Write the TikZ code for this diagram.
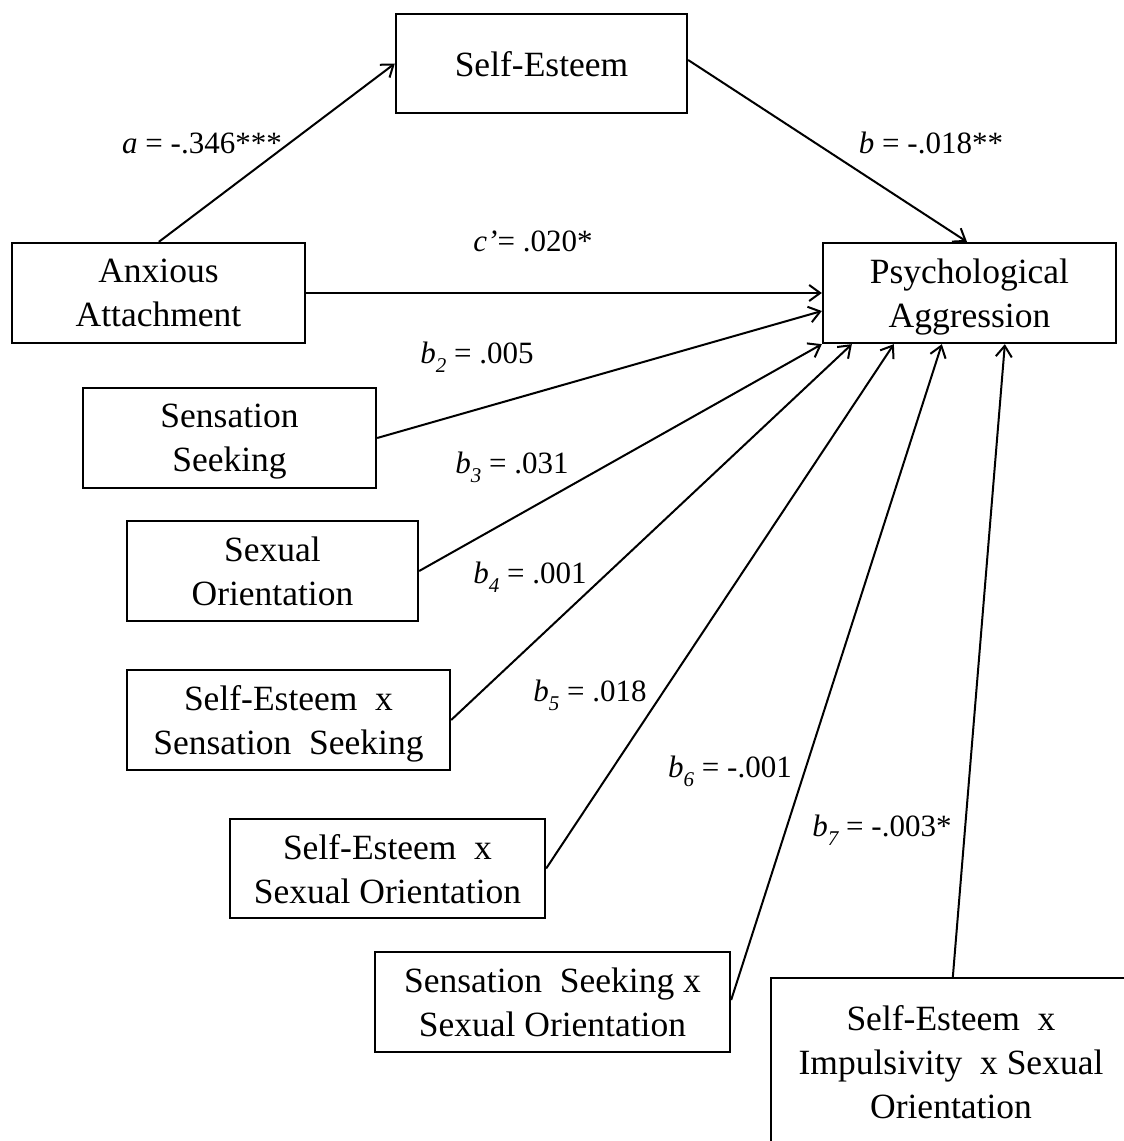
\documentclass[tikz,border=0pt]{standalone}
\usepackage{fontspec}
\setmainfont{Liberation Serif}
\usetikzlibrary{arrows.meta}
\newcommand{\sbs}[1]{\raisebox{-0.28em}{\fontsize{21}{21}\selectfont\itshape #1}}
\begin{document}
\begin{tikzpicture}[x=1pt,y=-1pt,
  box/.style={draw, line width=2.3pt, align=center, inner sep=0pt,
    font=\fontsize{35.5}{44}\selectfont, text depth=0pt},
  arr/.style={line width=2pt, -{Straight Barb[length=11pt,width=16pt,line width=2pt]}},
  lbl/.style={font=\fontsize{31}{36}\selectfont, inner sep=0pt}]
\useasboundingbox (0,0) rectangle (1124,1141);
\clip (0,0) rectangle (1124,1141);

% variables
\node[box, minimum width=291pt, minimum height=99pt]  (se)    at (541.5,63.5) {Self-Esteem};
\node[box, minimum width=293pt, minimum height=100pt] (aa)    at (158.5,293) {Anxious\\Attachment};
\node[box, minimum width=293pt, minimum height=100pt] (pa)    at (969.5,293) {Psychological\\Aggression};
\node[box, minimum width=293pt, minimum height=100pt] (ss)    at (229.5,438) {Sensation\\Seeking};
\node[box, minimum width=291pt, minimum height=100pt] (so)    at (272.5,571) {Sexual\\Orientation};
\node[box, minimum width=323pt, minimum height=100pt] (sexss) at (288.5,720) {Self-Esteem\ \ x\\Sensation\ \ Seeking};
\node[box, minimum width=315pt, minimum height=99pt]  (sexso) at (387.5,868.5) {Self-Esteem\ \ x\\Sexual Orientation};
\node[box, minimum width=355pt, minimum height=100pt] (ssxso) at (552.5,1002) {Sensation\ \ Seeking x\\Sexual Orientation};
\node[box, minimum width=360pt, minimum height=168pt] (seiso) at (951,1062) {Self-Esteem\ \ x\\Impulsivity\ \ x Sexual\\Orientation};

% paths
\draw[arr] ([xshift=148pt]aa.north west) -- (se.west);
\draw[arr] ([yshift=3.5pt]se.east) -- ([xshift=-2.5pt]pa.north);
\draw[arr] (aa.east) -- (pa.west);
\draw[arr] (ss.east) -- ([yshift=-18pt]pa.west);
\draw[arr] (so.east) -- (pa.south west);
\draw[arr] (sexss.east) -- ([xshift=30pt]pa.south west);
\draw[arr] (sexso.east) -- ([xshift=72pt]pa.south west);
\draw[arr] ([yshift=2pt]ssxso.east) -- ([xshift=120pt]pa.south west);
\draw[arr] ([xshift=183pt]seiso.north west) -- ([xshift=183pt]pa.south west);

% coefficients
\node[lbl] (la)  at (202,143) {\textit{a} = -.346***};
\node[lbl] (lb)  at (931,143) {\textit{b} = -.018**};
\node[lbl] (lc)  at (533,241) {\textit{c’}= .020*};
\node[lbl] (lb2) at (477,357) {\textit{b}\sbs{2} = .005};
\node[lbl] (lb3) at (512,467) {\textit{b}\sbs{3} = .031};
\node[lbl] (lb4) at (530,577) {\textit{b}\sbs{4} = .001};
\node[lbl] (lb5) at (590,695) {\textit{b}\sbs{5} = .018};
\node[lbl] (lb6) at (730,771) {\textit{b}\sbs{6} = -.001};
\node[lbl] (lb7) at (882,830) {\textit{b}\sbs{7} = -.003*};
\end{tikzpicture}
\end{document}
